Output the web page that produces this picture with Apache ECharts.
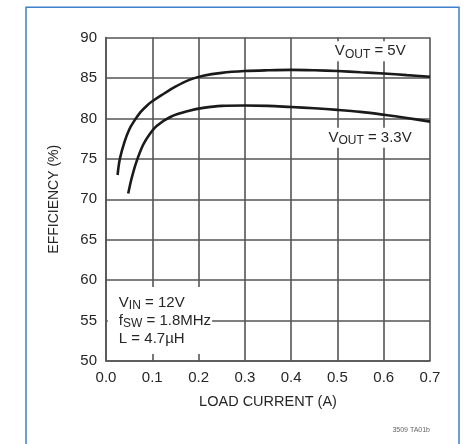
<!DOCTYPE html>
<html>
<head>
<meta charset="utf-8">
<script src="https://cdn.jsdelivr.net/npm/echarts@6/dist/echarts.min.js"></script>
<style>
  html, body { margin: 0; padding: 0; background: #fff; }
  #chart { width: 474px; height: 444px; }
</style>
</head>
<body>
<div id="chart"></div>
<script>
// Efficiency vs load current, VIN = 12V, fSW = 1.8MHz, L = 4.7µH
const current5V = [0.025, 0.03, 0.04, 0.05, 0.06, 0.075, 0.09, 0.1, 0.12, 0.15, 0.18, 0.21, 0.25, 0.3, 0.35, 0.4, 0.45, 0.5, 0.55, 0.6, 0.65, 0.7];
const efficiency5V = [73.0, 75.0, 77.1, 78.6, 79.6, 80.8, 81.66, 82.11, 82.87, 83.92, 84.76, 85.27, 85.63, 85.85, 85.95, 86.0, 85.95, 85.85, 85.7, 85.55, 85.35, 85.15];

const current3V3 = [0.048, 0.055, 0.065, 0.08, 0.095, 0.11, 0.14, 0.18, 0.21, 0.25, 0.3, 0.35, 0.4, 0.45, 0.5, 0.55, 0.6, 0.65, 0.7];
const efficiency3V3 = [70.7, 72.5, 74.5, 76.7, 78.1, 79.1, 80.2, 80.95, 81.3, 81.55, 81.6, 81.55, 81.4, 81.25, 81.05, 80.8, 80.45, 80.05, 79.6];

const xTicks = { min: 0, max: 0.7, step: 0.1 };
const yTicks = { min: 50, max: 90, step: 5 };

const FONT = '"Liberation Sans", Arial, sans-serif';
const INK = '#262626';
const GRID = '#555';

const pairs = (xs, ys) => xs.map((x, i) => [x, ys[i]]);

const chart = echarts.init(document.getElementById('chart'), null, { renderer: 'canvas' });

const axisCommon = {
  type: 'value',
  axisLine: { show: true, lineStyle: { color: GRID, width: 1.6 } },
  axisTick: { show: false },
  splitLine: { show: true, lineStyle: { color: GRID, width: 1.6 } },
  nameTextStyle: { fontFamily: FONT, color: INK }
};

const curveStyle = { color: '#1a1a1a', width: 2.6 };

chart.setOption({
  animation: false,
  backgroundColor: '#fff',
  grid: { left: 106, top: 37.5, right: 44, bottom: 83, containLabel: false, outerBoundsMode: 'none' },
  xAxis: Object.assign({}, axisCommon, {
    min: xTicks.min, max: xTicks.max, interval: xTicks.step,
    name: 'LOAD CURRENT (A)', nameLocation: 'middle', nameGap: 33,
    nameTextStyle: { fontFamily: FONT, color: INK, fontSize: 14.5 },
    axisLabel: { margin: 9, fontFamily: FONT, fontSize: 15, color: INK, formatter: v => v.toFixed(1) }
  }),
  yAxis: Object.assign({}, axisCommon, {
    min: yTicks.min, max: yTicks.max, interval: yTicks.step,
    name: 'EFFICIENCY (%)', nameLocation: 'middle', nameGap: 45,
    nameTextStyle: { fontFamily: FONT, color: INK, fontSize: 14 },
    axisLabel: { margin: 9, fontFamily: FONT, fontSize: 15, color: INK }
  }),
  series: [
    {
      name: 'VOUT = 5V', type: 'line', data: pairs(current5V, efficiency5V),
      smooth: 0.35, showSymbol: false, symbol: 'none', z: 5,
      lineStyle: curveStyle
    },
    {
      name: 'VOUT = 3.3V', type: 'line', data: pairs(current3V3, efficiency3V3),
      smooth: 0.35, showSymbol: false, symbol: 'none', z: 5,
      lineStyle: curveStyle
    }
  ]
});

// Annotations anchored in data space
const px = (x, y) => chart.convertToPixel({ gridIndex: 0 }, [x, y]);
const rich = {
  m: { fontFamily: FONT, fontSize: 15, fill: INK, lineHeight: 18, verticalAlign: 'middle' },
  s: { fontFamily: FONT, fontSize: 12, fill: INK, lineHeight: 12, verticalAlign: 'bottom' }
};

const p5 = px(0.488, 88.3);
const p33 = px(0.474, 77.6);
const pBox = px(0.004, 59.15);
const pFoot = px(0.7, 50);

chart.setOption({
  graphic: [
    {
      type: 'rect', silent: true, z: 0,
      shape: { x: 26, y: 7.3, width: 433, height: 520 },
      style: { fill: 'none', stroke: '#3f7fcc', lineWidth: 1.5 }
    },
    {
      type: 'text', x: p5[0], y: p5[1], z: 20,
      style: {
        text: '{m|V}{s|OUT}{m| = 5V}', rich: rich,
        align: 'left', verticalAlign: 'middle',
        backgroundColor: '#fff', padding: [1, 3, 1, 3]
      }
    },
    {
      type: 'text', x: p33[0], y: p33[1], z: 20,
      style: {
        text: '{m|V}{s|OUT}{m| = 3.3V}', rich: rich,
        align: 'left', verticalAlign: 'middle',
        backgroundColor: '#fff', padding: [1, 3, 1, 3]
      }
    },
    {
      type: 'text', x: pBox[0], y: pBox[1], z: 20,
      style: {
        text: '{m|V}{s|IN}{m| = 12V}\n{m|f}{s|SW}{m| = 1.8MHz}\n{m|L = 4.7µH}', rich: rich,
        align: 'left', verticalAlign: 'top',
        backgroundColor: '#fff', padding: [7, 1, 6, 11]
      }
    },
    {
      type: 'text', x: pFoot[0], y: pFoot[1] + 66, z: 20,
      style: {
        text: '3509 TA01b', fontFamily: FONT, fontSize: 7, fill: '#666',
        align: 'right', verticalAlign: 'top'
      }
    }
  ]
});
</script>
</body>
</html>
